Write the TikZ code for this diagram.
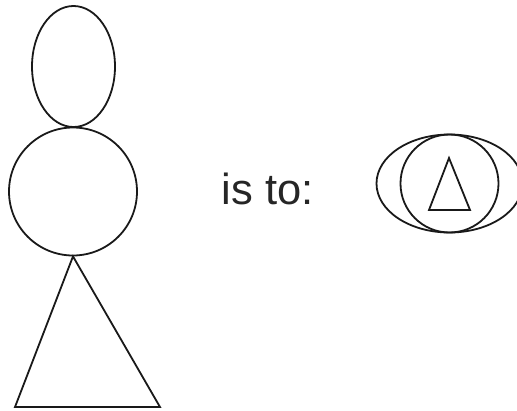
\documentclass[tikz,border=0pt]{standalone}
\usepackage{fontspec}
\setmainfont{Liberation Sans}
\usetikzlibrary{shapes.geometric}
\begin{document}
\begin{tikzpicture}[
  x=1pt, y=-1pt,
  line width=1.8pt,
  oval/.style  ={ellipse, draw=black!90, inner sep=0pt},
  ring/.style  ={circle, draw=black!90, inner sep=0pt},
  tri/.style   ={draw=black!90, line join=miter},
  label/.style ={font=\fontsize{43.5}{50}\selectfont, text=black!85}
]
\useasboundingbox (0,0) rectangle (517,410);
% ---- Figure on the left ------------------------------------------------------
\node[oval, minimum width=83pt, minimum height=121pt] (head) at (73.5,66.5) {};
\node[ring, minimum size=128pt] (body) at (73,191.5) {};
\coordinate (footL) at (15,407);
\coordinate (footR) at (160,407);
\draw[tri] (body.south) -- (footR) -- (footL) -- cycle;
% ---- Text --------------------------------------------------------------------
\node[label] (isto) at (267.5,189) {is to:};
% ---- Figure on the right -----------------------------------------------------
\node[oval, minimum width=146pt, minimum height=98pt] (eye) at (449.5,183.5) {};
\node[ring, minimum size=98pt] (iris) at (449.5,183.5) {};
\coordinate (tipT) at (449,158);
\coordinate (tipL) at (429,210);
\coordinate (tipR) at (470,210);
\draw[tri] (tipT) -- (tipR) -- (tipL) -- cycle;
\end{tikzpicture}
\end{document}
